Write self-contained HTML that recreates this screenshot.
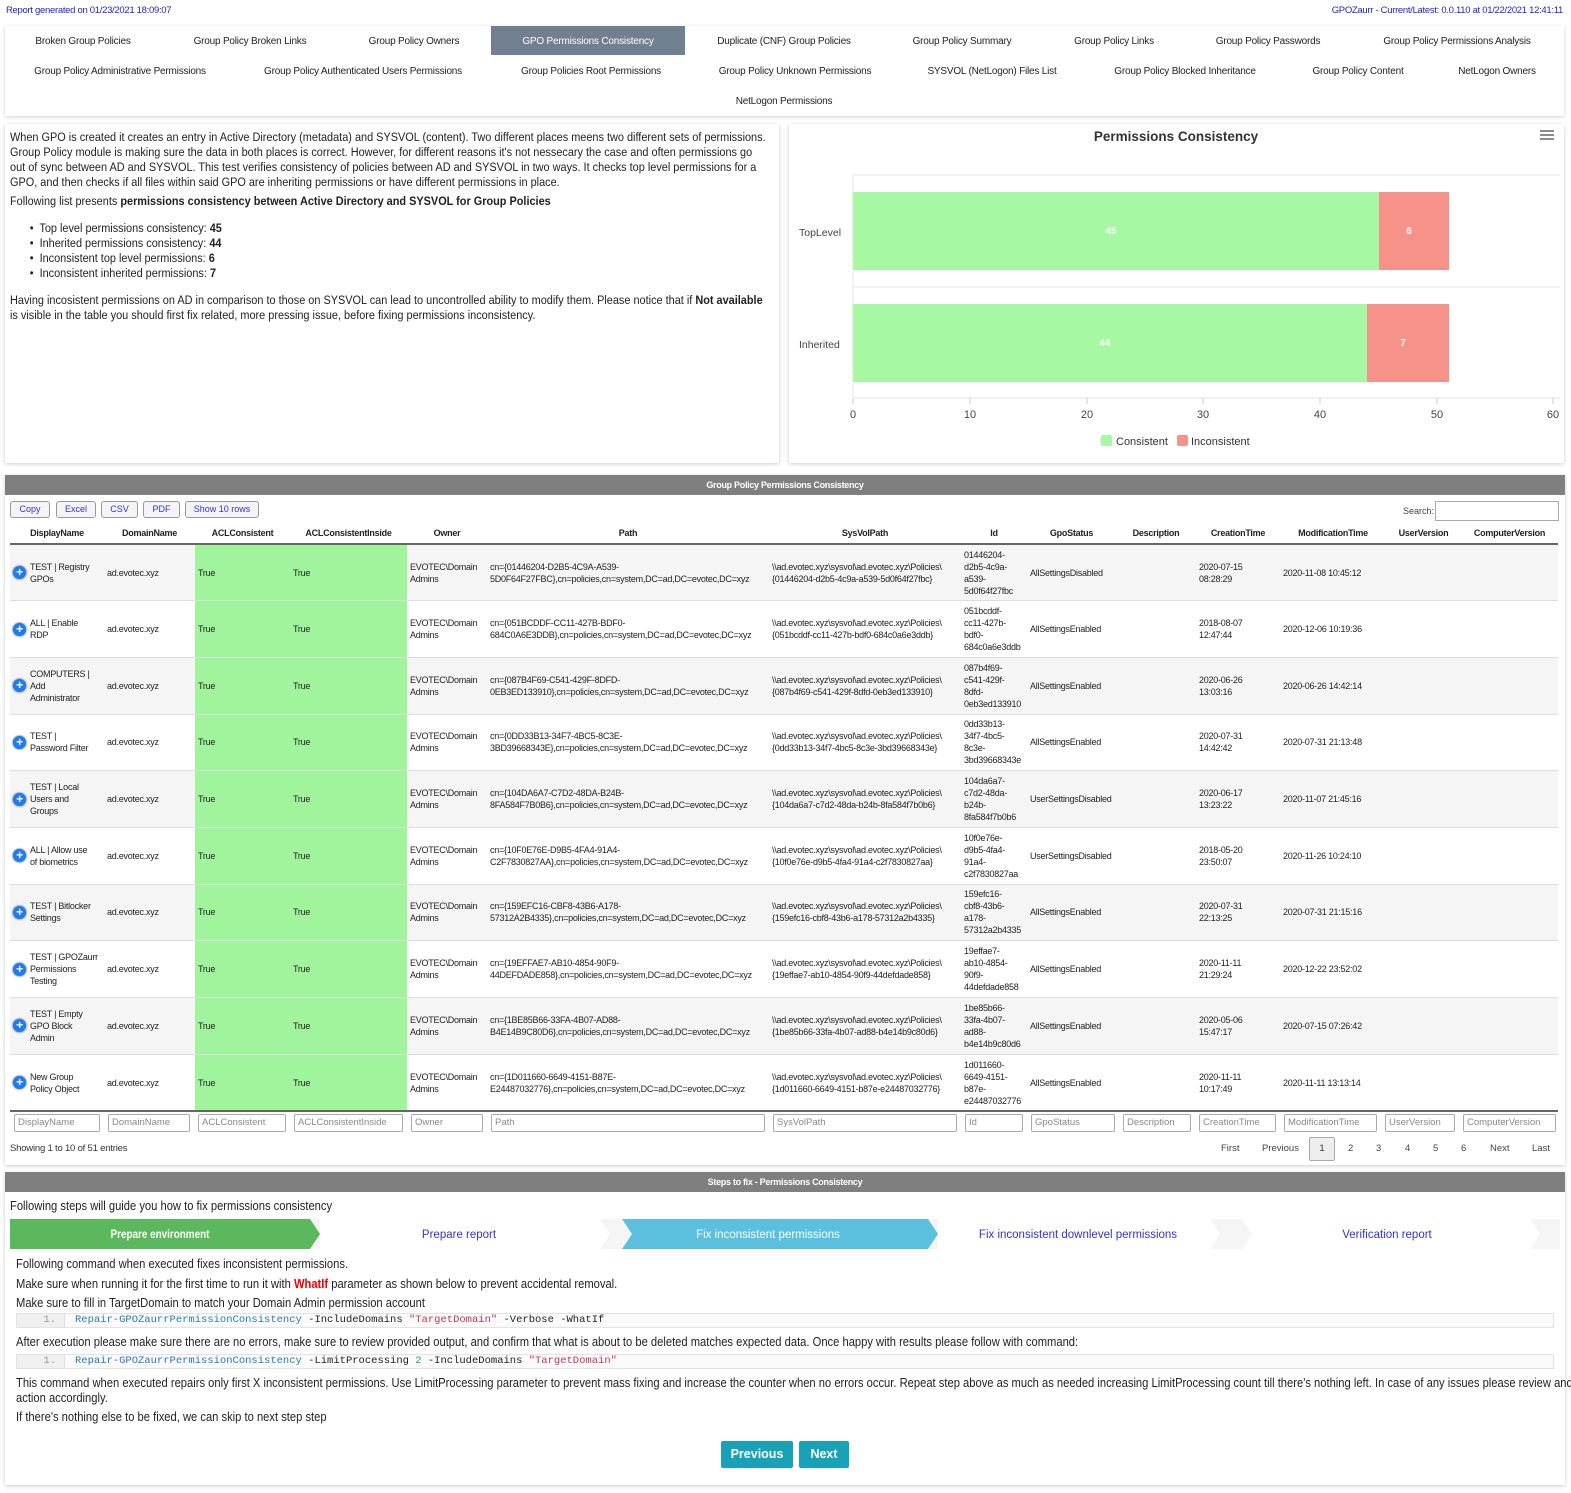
<!DOCTYPE html>
<html><head><meta charset="utf-8">
<style>
*{box-sizing:border-box;margin:0;padding:0}
body{width:1571px;height:1493px;background:#fff;font-family:"Liberation Sans",sans-serif;color:#222;position:relative;overflow:hidden}
.abs{position:absolute;white-space:nowrap}
.nav{position:absolute;left:5px;top:26px;width:1559px;height:90px;background:#fff;box-shadow:0 1px 4px rgba(0,0,0,.18)}
.ni{position:absolute;font-size:10px;transform:translateX(-50%);white-space:nowrap;color:#222;letter-spacing:-.2px}
.panel{position:absolute;background:#fff;box-shadow:0 1px 4px rgba(0,0,0,.2)}
.sq{transform:scaleX(.895);transform-origin:0 0;white-space:nowrap}
.lt{font-size:12.2px;line-height:15px;color:#222}
.bar{position:absolute;background:#7f7f7f;color:#fff;font-size:9px;font-weight:bold;text-align:center;line-height:20px;letter-spacing:-.3px}
table{border-collapse:collapse;table-layout:fixed;position:absolute}
td,th{font-size:9px;letter-spacing:-.25px;padding:0 3px;vertical-align:middle;line-height:12px;overflow:hidden}
th{font-weight:bold;height:21px;border-bottom:2px solid #666;text-align:center;color:#222}
tbody tr{height:56.7px}
tbody tr:nth-child(odd) td{background:#f5f5f5}
tbody td{border-top:1px solid #ddd}
tbody td.g{background:#a0f59c!important}
.pl{display:inline-block;width:13px;height:13px;border-radius:50%;background:#1e7cf0;color:#fff;font-size:12px;line-height:13px;text-align:center;font-weight:bold;margin-right:4px;vertical-align:middle;box-shadow:0 0 2px #333}
.dn{display:inline-block;vertical-align:middle}
.btn{position:absolute;top:501px;height:17px;border:1px solid #999;border-radius:3px;background:#f4f4f4;color:#3333cc;font-size:9px;line-height:15px;text-align:center}
.inp{position:absolute;top:1114px;height:18px;border:1px solid #aaa;border-radius:2px;font-size:9.5px;color:#888;line-height:16px;padding-left:3px;white-space:nowrap;overflow:hidden}
.pg{position:absolute;top:1143px;font-size:9.5px;color:#444}
.code{position:absolute;left:16px;width:1538px;height:15px;background:#fafafa;border:1px solid #e3e3e3;font-family:"Liberation Mono",monospace;font-size:10.5px;line-height:13px;white-space:nowrap}
.code .n{display:inline-block;width:48px;color:#999;text-align:right;padding-right:8px;border-right:1px solid #ddd;background:#f0f0f0;margin-right:10px}
</style></head><body>

<div class="abs" style="left:6px;top:5px;font-size:9.5px;color:#2222cc;letter-spacing:-.3px">Report generated on 01/23/2021 18:09:07</div>
<div class="abs" style="right:8px;top:5px;font-size:9.5px;color:#2222cc;letter-spacing:-.3px">GPOZaurr - Current/Latest: 0.0.110 at 01/22/2021 12:41:11</div>

<div class="nav">
<div style="position:absolute;left:486px;top:0;width:194px;height:29px;background:#708090"></div>
<div class="ni" style="left:78px;top:10px">Broken Group Policies</div>
<div class="ni" style="left:245px;top:10px">Group Policy Broken Links</div>
<div class="ni" style="left:409px;top:10px">Group Policy Owners</div>
<div class="ni" style="left:583px;top:10px;color:#fff">GPO Permissions Consistency</div>
<div class="ni" style="left:779px;top:10px">Duplicate (CNF) Group Policies</div>
<div class="ni" style="left:957px;top:10px">Group Policy Summary</div>
<div class="ni" style="left:1109px;top:10px">Group Policy Links</div>
<div class="ni" style="left:1263px;top:10px">Group Policy Passwords</div>
<div class="ni" style="left:1452px;top:10px">Group Policy Permissions Analysis</div>
<div class="ni" style="left:115px;top:40px">Group Policy Administrative Permissions</div>
<div class="ni" style="left:358px;top:40px">Group Policy Authenticated Users Permissions</div>
<div class="ni" style="left:586px;top:40px">Group Policies Root Permissions</div>
<div class="ni" style="left:790px;top:40px">Group Policy Unknown Permissions</div>
<div class="ni" style="left:987px;top:40px">SYSVOL (NetLogon) Files List</div>
<div class="ni" style="left:1180px;top:40px">Group Policy Blocked Inheritance</div>
<div class="ni" style="left:1353px;top:40px">Group Policy Content</div>
<div class="ni" style="left:1492px;top:40px">NetLogon Owners</div>
<div class="ni" style="left:779px;top:70px">NetLogon Permissions</div>
</div>

<div class="panel" style="left:5px;top:124px;width:774px;height:339px">
<div class="sq lt" style="position:absolute;left:5px;top:6px">
When GPO is created it creates an entry in Active Directory (metadata) and SYSVOL (content). Two different places meens two different sets of permissions.<br>
Group Policy module is making sure the data in both places is correct. However, for different reasons it's not nessecary the case and often permissions go<br>
out of sync between AD and SYSVOL. This test verifies consistency of policies between AD and SYSVOL in two ways. It checks top level permissions for a<br>
GPO, and then checks if all files within said GPO are inheriting permissions or have different permissions in place.<br>
<div style="margin-top:4px">Following list presents <b>permissions consistency between Active Directory and SYSVOL for Group Policies</b></div>
<div style="margin-top:12px;margin-left:22px">&bull;&nbsp; Top level permissions consistency: <b>45</b><br>&bull;&nbsp; Inherited permissions consistency: <b>44</b><br>&bull;&nbsp; Inconsistent top level permissions: <b>6</b><br>&bull;&nbsp; Inconsistent inherited permissions: <b>7</b></div>
<div style="margin-top:12px">Having incosistent permissions on AD in comparison to those on SYSVOL can lead to uncontrolled ability to modify them. Please notice that if <b>Not available</b><br>is visible in the table you should first fix related, more pressing issue, before fixing permissions inconsistency.</div>
</div>
</div>

<div class="panel" style="left:789px;top:124px;width:775px;height:339px"></div>
<svg class="abs" style="left:0;top:0" width="1571" height="470">
<text x="1176" y="141" text-anchor="middle" font-family="Liberation Sans" font-weight="bold" font-size="13.5" fill="#333">Permissions Consistency</text>
<g stroke="#666" stroke-width="1.5"><line x1="1540" y1="131" x2="1554" y2="131"/><line x1="1540" y1="135" x2="1554" y2="135"/><line x1="1540" y1="139" x2="1554" y2="139"/></g>
<g stroke="#e6e6e6"><line x1="853" y1="175" x2="1560" y2="175"/><line x1="853" y1="287" x2="1560" y2="287"/><line x1="853" y1="398" x2="1560" y2="398"/><line x1="853" y1="175" x2="853" y2="398"/></g>
<g stroke="#ccc"><line x1="853" y1="398" x2="853" y2="404"/><line x1="970" y1="398" x2="970" y2="404"/><line x1="1087" y1="398" x2="1087" y2="404"/><line x1="1203" y1="398" x2="1203" y2="404"/><line x1="1320" y1="398" x2="1320" y2="404"/><line x1="1437" y1="398" x2="1437" y2="404"/><line x1="1553" y1="398" x2="1553" y2="404"/></g>
<rect x="853" y="192" width="526" height="78" fill="#a6f9a2"/>
<rect x="1379" y="192" width="70" height="78" fill="#f6928a"/>
<rect x="853" y="304" width="514" height="78" fill="#a6f9a2"/>
<rect x="1367" y="304" width="82" height="78" fill="#f6928a"/>
<g font-family="Liberation Sans" font-size="10" font-weight="bold" fill="#fff" text-anchor="middle"><text x="1111" y="234">45</text><text x="1409" y="234">6</text><text x="1105" y="346">44</text><text x="1403" y="346">7</text></g>
<g font-family="Liberation Sans" font-size="10.5" fill="#444"><text x="799" y="236">TopLevel</text><text x="799" y="348">Inherited</text></g>
<g font-family="Liberation Sans" font-size="11" fill="#444" text-anchor="middle"><text x="853" y="418">0</text><text x="970" y="418">10</text><text x="1087" y="418">20</text><text x="1203" y="418">30</text><text x="1320" y="418">40</text><text x="1437" y="418">50</text><text x="1553" y="418">60</text></g>
<rect x="1101" y="435" width="11" height="11" rx="2" fill="#a6f9a2"/><text x="1116" y="445" font-family="Liberation Sans" font-size="11" fill="#333">Consistent</text>
<rect x="1177" y="435" width="11" height="11" rx="2" fill="#f6928a"/><text x="1191" y="445" font-family="Liberation Sans" font-size="11" fill="#333">Inconsistent</text>
</svg>

<div class="panel" style="left:5px;top:475px;width:1560px;height:690px"></div>
<div class="bar" style="left:5px;top:475px;width:1560px">Group Policy Permissions Consistency</div>
<div class="btn" style="left:10px;width:40px">Copy</div>
<div class="btn" style="left:56px;width:40px">Excel</div>
<div class="btn" style="left:101px;width:37px">CSV</div>
<div class="btn" style="left:143px;width:37px">PDF</div>
<div class="btn" style="left:185px;width:74px">Show 10 rows</div>
<div class="abs" style="left:1403px;top:506px;font-size:9px;color:#444">Search:</div>
<div class="abs" style="left:1435px;top:501px;width:124px;height:20px;border:1px solid #aaa"></div>

<table style="left:10px;top:523px;width:1548px">
<colgroup><col style="width:94px"><col style="width:91px"><col style="width:95px"><col style="width:117px"><col style="width:80px"><col style="width:282px"><col style="width:192px"><col style="width:66px"><col style="width:89px"><col style="width:80px"><col style="width:84px"><col style="width:106px"><col style="width:75px"><col style="width:97px"></colgroup>
<thead><tr><th>DisplayName</th><th>DomainName</th><th>ACLConsistent</th><th>ACLConsistentInside</th><th>Owner</th><th>Path</th><th>SysVolPath</th><th>Id</th><th>GpoStatus</th><th>Description</th><th>CreationTime</th><th>ModificationTime</th><th>UserVersion</th><th>ComputerVersion</th></tr></thead>
<tbody>
<tr><td><span class="pl">+</span><span class="dn">TEST | Registry<br>GPOs</span></td><td>ad.evotec.xyz</td><td class="g">True</td><td class="g">True</td><td>EVOTEC\Domain<br>Admins</td><td>cn={01446204-D2B5-4C9A-A539-<br>5D0F64F27FBC},cn=policies,cn=system,DC=ad,DC=evotec,DC=xyz</td><td>\\ad.evotec.xyz\sysvol\ad.evotec.xyz\Policies\<br>{01446204-d2b5-4c9a-a539-5d0f64f27fbc}</td><td>01446204-<br>d2b5-4c9a-<br>a539-<br>5d0f64f27fbc</td><td>AllSettingsDisabled</td><td></td><td>2020-07-15<br>08:28:29</td><td>2020-11-08 10:45:12</td><td></td><td></td></tr>
<tr><td><span class="pl">+</span><span class="dn">ALL | Enable<br>RDP</span></td><td>ad.evotec.xyz</td><td class="g">True</td><td class="g">True</td><td>EVOTEC\Domain<br>Admins</td><td>cn={051BCDDF-CC11-427B-BDF0-<br>684C0A6E3DDB},cn=policies,cn=system,DC=ad,DC=evotec,DC=xyz</td><td>\\ad.evotec.xyz\sysvol\ad.evotec.xyz\Policies\<br>{051bcddf-cc11-427b-bdf0-684c0a6e3ddb}</td><td>051bcddf-<br>cc11-427b-<br>bdf0-<br>684c0a6e3ddb</td><td>AllSettingsEnabled</td><td></td><td>2018-08-07<br>12:47:44</td><td>2020-12-06 10:19:36</td><td></td><td></td></tr>
<tr><td><span class="pl">+</span><span class="dn">COMPUTERS |<br>Add<br>Administrator</span></td><td>ad.evotec.xyz</td><td class="g">True</td><td class="g">True</td><td>EVOTEC\Domain<br>Admins</td><td>cn={087B4F69-C541-429F-8DFD-<br>0EB3ED133910},cn=policies,cn=system,DC=ad,DC=evotec,DC=xyz</td><td>\\ad.evotec.xyz\sysvol\ad.evotec.xyz\Policies\<br>{087b4f69-c541-429f-8dfd-0eb3ed133910}</td><td>087b4f69-<br>c541-429f-<br>8dfd-<br>0eb3ed133910</td><td>AllSettingsEnabled</td><td></td><td>2020-06-26<br>13:03:16</td><td>2020-06-26 14:42:14</td><td></td><td></td></tr>
<tr><td><span class="pl">+</span><span class="dn">TEST |<br>Password Filter</span></td><td>ad.evotec.xyz</td><td class="g">True</td><td class="g">True</td><td>EVOTEC\Domain<br>Admins</td><td>cn={0DD33B13-34F7-4BC5-8C3E-<br>3BD39668343E},cn=policies,cn=system,DC=ad,DC=evotec,DC=xyz</td><td>\\ad.evotec.xyz\sysvol\ad.evotec.xyz\Policies\<br>{0dd33b13-34f7-4bc5-8c3e-3bd39668343e}</td><td>0dd33b13-<br>34f7-4bc5-<br>8c3e-<br>3bd39668343e</td><td>AllSettingsEnabled</td><td></td><td>2020-07-31<br>14:42:42</td><td>2020-07-31 21:13:48</td><td></td><td></td></tr>
<tr><td><span class="pl">+</span><span class="dn">TEST | Local<br>Users and<br>Groups</span></td><td>ad.evotec.xyz</td><td class="g">True</td><td class="g">True</td><td>EVOTEC\Domain<br>Admins</td><td>cn={104DA6A7-C7D2-48DA-B24B-<br>8FA584F7B0B6},cn=policies,cn=system,DC=ad,DC=evotec,DC=xyz</td><td>\\ad.evotec.xyz\sysvol\ad.evotec.xyz\Policies\<br>{104da6a7-c7d2-48da-b24b-8fa584f7b0b6}</td><td>104da6a7-<br>c7d2-48da-<br>b24b-<br>8fa584f7b0b6</td><td>UserSettingsDisabled</td><td></td><td>2020-06-17<br>13:23:22</td><td>2020-11-07 21:45:16</td><td></td><td></td></tr>
<tr><td><span class="pl">+</span><span class="dn">ALL | Allow use<br>of biometrics</span></td><td>ad.evotec.xyz</td><td class="g">True</td><td class="g">True</td><td>EVOTEC\Domain<br>Admins</td><td>cn={10F0E76E-D9B5-4FA4-91A4-<br>C2F7830827AA},cn=policies,cn=system,DC=ad,DC=evotec,DC=xyz</td><td>\\ad.evotec.xyz\sysvol\ad.evotec.xyz\Policies\<br>{10f0e76e-d9b5-4fa4-91a4-c2f7830827aa}</td><td>10f0e76e-<br>d9b5-4fa4-<br>91a4-<br>c2f7830827aa</td><td>UserSettingsDisabled</td><td></td><td>2018-05-20<br>23:50:07</td><td>2020-11-26 10:24:10</td><td></td><td></td></tr>
<tr><td><span class="pl">+</span><span class="dn">TEST | Bitlocker<br>Settings</span></td><td>ad.evotec.xyz</td><td class="g">True</td><td class="g">True</td><td>EVOTEC\Domain<br>Admins</td><td>cn={159EFC16-CBF8-43B6-A178-<br>57312A2B4335},cn=policies,cn=system,DC=ad,DC=evotec,DC=xyz</td><td>\\ad.evotec.xyz\sysvol\ad.evotec.xyz\Policies\<br>{159efc16-cbf8-43b6-a178-57312a2b4335}</td><td>159efc16-<br>cbf8-43b6-<br>a178-<br>57312a2b4335</td><td>AllSettingsEnabled</td><td></td><td>2020-07-31<br>22:13:25</td><td>2020-07-31 21:15:16</td><td></td><td></td></tr>
<tr><td><span class="pl">+</span><span class="dn">TEST | GPOZaurr<br>Permissions<br>Testing</span></td><td>ad.evotec.xyz</td><td class="g">True</td><td class="g">True</td><td>EVOTEC\Domain<br>Admins</td><td>cn={19EFFAE7-AB10-4854-90F9-<br>44DEFDADE858},cn=policies,cn=system,DC=ad,DC=evotec,DC=xyz</td><td>\\ad.evotec.xyz\sysvol\ad.evotec.xyz\Policies\<br>{19effae7-ab10-4854-90f9-44defdade858}</td><td>19effae7-<br>ab10-4854-<br>90f9-<br>44defdade858</td><td>AllSettingsEnabled</td><td></td><td>2020-11-11<br>21:29:24</td><td>2020-12-22 23:52:02</td><td></td><td></td></tr>
<tr><td><span class="pl">+</span><span class="dn">TEST | Empty<br>GPO Block<br>Admin</span></td><td>ad.evotec.xyz</td><td class="g">True</td><td class="g">True</td><td>EVOTEC\Domain<br>Admins</td><td>cn={1BE85B66-33FA-4B07-AD88-<br>B4E14B9C80D6},cn=policies,cn=system,DC=ad,DC=evotec,DC=xyz</td><td>\\ad.evotec.xyz\sysvol\ad.evotec.xyz\Policies\<br>{1be85b66-33fa-4b07-ad88-b4e14b9c80d6}</td><td>1be85b66-<br>33fa-4b07-<br>ad88-<br>b4e14b9c80d6</td><td>AllSettingsEnabled</td><td></td><td>2020-05-06<br>15:47:17</td><td>2020-07-15 07:26:42</td><td></td><td></td></tr>
<tr><td><span class="pl">+</span><span class="dn">New Group<br>Policy Object</span></td><td>ad.evotec.xyz</td><td class="g">True</td><td class="g">True</td><td>EVOTEC\Domain<br>Admins</td><td>cn={1D011660-6649-4151-B87E-<br>E24487032776},cn=policies,cn=system,DC=ad,DC=evotec,DC=xyz</td><td>\\ad.evotec.xyz\sysvol\ad.evotec.xyz\Policies\<br>{1d011660-6649-4151-b87e-e24487032776}</td><td>1d011660-<br>6649-4151-<br>b87e-<br>e24487032776</td><td>AllSettingsEnabled</td><td></td><td>2020-11-11<br>10:17:49</td><td>2020-11-11 13:13:14</td><td></td><td></td></tr>
</tbody></table>
<div class="abs" style="left:10px;top:1110px;width:1548px;border-top:2px solid #666"></div>

<div class="inp" style="left:14px;width:86px">DisplayName</div>
<div class="inp" style="left:108px;width:82px">DomainName</div>
<div class="inp" style="left:198px;width:88px">ACLConsistent</div>
<div class="inp" style="left:294px;width:109px">ACLConsistentInside</div>
<div class="inp" style="left:411px;width:72px">Owner</div>
<div class="inp" style="left:491px;width:274px">Path</div>
<div class="inp" style="left:773px;width:184px">SysVolPath</div>
<div class="inp" style="left:965px;width:58px">Id</div>
<div class="inp" style="left:1031px;width:84px">GpoStatus</div>
<div class="inp" style="left:1123px;width:68px">Description</div>
<div class="inp" style="left:1199px;width:77px">CreationTime</div>
<div class="inp" style="left:1284px;width:93px">ModificationTime</div>
<div class="inp" style="left:1385px;width:70px">UserVersion</div>
<div class="inp" style="left:1463px;width:93px">ComputerVersion</div>

<div class="abs" style="left:10px;top:1143px;font-size:9.5px;color:#333;letter-spacing:-.2px">Showing 1 to 10 of 51 entries</div>
<div class="pg" style="left:1221px">First</div>
<div class="pg" style="left:1262px">Previous</div>
<div class="abs" style="left:1309px;top:1137px;width:26px;height:24px;border:1px solid #aaa;border-radius:2px;background:#eee;font-size:9.5px;text-align:center;line-height:22px;color:#333">1</div>
<div class="pg" style="left:1348px">2</div>
<div class="pg" style="left:1376px">3</div>
<div class="pg" style="left:1405px">4</div>
<div class="pg" style="left:1433px">5</div>
<div class="pg" style="left:1461px">6</div>
<div class="pg" style="left:1490px">Next</div>
<div class="pg" style="left:1532px">Last</div>

<div class="panel" style="left:5px;top:1172px;width:1560px;height:313px"></div>
<div class="bar" style="left:5px;top:1172px;width:1560px">Steps to fix - Permissions Consistency</div>
<div class="abs sq" style="left:10px;top:1199px;font-size:12.5px;color:#222">Following steps will guide you how to fix permissions consistency</div>

<svg class="abs" style="left:10px;top:1219px" width="1550" height="30">
<rect x="0" y="0" width="1550" height="30" fill="#f5f5f5"/>
<polygon points="0,0 300,0 310,15 300,30 0,30" fill="#5cb85c"/>
<polygon points="310,0 590,0 600,15 590,30 310,30 310,30" fill="#fff"/>
<polygon points="612,0 918,0 928,15 918,30 612,30 622,15" fill="#5bc0de"/>
<polygon points="928,0 1200,0 1210,15 1200,30 928,30" fill="#fff"/>
<polygon points="1232,0 1520,0 1530,15 1520,30 1232,30 1242,15" fill="#fff"/>
<g font-family="Liberation Sans" font-size="11.5" text-anchor="middle"><text x="150" y="19" fill="#fff" font-weight="bold" transform="translate(21 0) scale(.86 1)">Prepare environment</text><text x="449" y="19" fill="#3333cc">Prepare report</text><text x="758" y="19" fill="#fff">Fix inconsistent permissions</text><text x="1068" y="19" fill="#3333cc">Fix inconsistent downlevel permissions</text><text x="1377" y="19" fill="#3333cc">Verification report</text></g>
</svg>

<div class="abs sq" style="left:16px;top:1255px;font-size:12.5px;line-height:19.5px;color:#222">Following command when executed fixes inconsistent permissions.<br>Make sure when running it for the first time to run it with <b style="color:#e00">WhatIf</b> parameter as shown below to prevent accidental removal.<br>Make sure to fill in TargetDomain to match your Domain Admin permission account</div>
<div class="code" style="top:1313px"><span class="n">1.</span><span style="color:#2a7ab0">Repair-GPOZaurrPermissionConsistency</span> -IncludeDomains <span style="color:#c0365a">"TargetDomain"</span> -Verbose -WhatIf</div>
<div class="abs sq" style="left:16px;top:1335px;font-size:12.5px;color:#222">After execution please make sure there are no errors, make sure to review provided output, and confirm that what is about to be deleted matches expected data. Once happy with results please follow with command:</div>
<div class="code" style="top:1354px"><span class="n">1.</span><span style="color:#2a7ab0">Repair-GPOZaurrPermissionConsistency</span> -LimitProcessing <span style="color:#2a9a8a">2</span> -IncludeDomains <span style="color:#c0365a">"TargetDomain"</span></div>
<div class="abs sq" style="left:16px;top:1376px;font-size:12.5px;line-height:15px;color:#222">This command when executed repairs only first X inconsistent permissions. Use LimitProcessing parameter to prevent mass fixing and increase the counter when no errors occur. Repeat step above as much as needed increasing LimitProcessing count till there's nothing left. In case of any issues please review and<br>action accordingly.</div>
<div class="abs sq" style="left:16px;top:1410px;font-size:12.5px;color:#222">If there's nothing else to be fixed, we can skip to next step step</div>

<div class="abs" style="left:721px;top:1441px;width:72px;height:27px;background:#17a2b8;border-radius:2px;color:#fff;font-size:12.5px;font-weight:bold;text-align:center;line-height:27px">Previous</div>
<div class="abs" style="left:799px;top:1441px;width:50px;height:27px;background:#17a2b8;border-radius:2px;color:#fff;font-size:12.5px;font-weight:bold;text-align:center;line-height:27px">Next</div>
</body></html>
